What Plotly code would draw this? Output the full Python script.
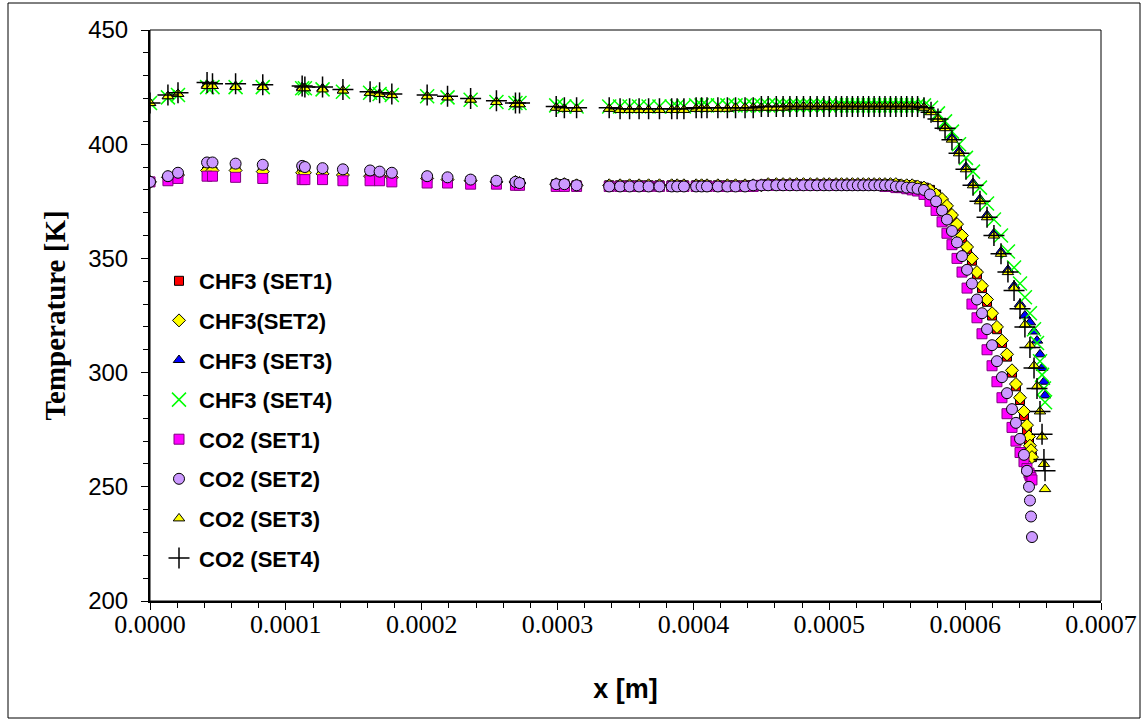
import plotly.graph_objects as go

# ---------------- data ----------------
x_plateau = [0.0, 0.0000132, 0.0000206, 0.000042, 0.000046, 0.000063, 0.000083, 0.000112, 0.000114,
             0.000127, 0.000142, 0.000162, 0.000169, 0.000178, 0.000204, 0.000219, 0.000236, 0.000255,
             0.000269, 0.000272, 0.000299, 0.000305, 0.000314, 0.000338, 0.000346, 0.000353, 0.000360,
             0.000367, 0.000375, 0.000384, 0.000388, 0.000393, 0.000402, 0.000406, 0.000410, 0.000418,
             0.000425, 0.000431, 0.000438, 0.000444, 0.000450, 0.000455, 0.000461, 0.000466, 0.000471,
             0.000476, 0.000481, 0.000486, 0.000491, 0.000496, 0.000500, 0.000505, 0.000509, 0.000513,
             0.000517, 0.000521, 0.000525, 0.000529, 0.000533, 0.000537, 0.000541, 0.000545, 0.000549,
             0.000553, 0.000557, 0.000561, 0.000565]

x_tail_lo = [0.0005697, 0.0005741, 0.0005786, 0.0005830, 0.0005866, 0.0005903, 0.0005940, 0.0005977,
             0.0006014, 0.0006050, 0.0006087, 0.0006124, 0.0006161, 0.0006198, 0.0006234, 0.0006271,
             0.0006308, 0.0006345, 0.0006374, 0.0006404, 0.0006433, 0.0006455, 0.0006470, 0.0006477,
             0.0006485, 0.0006492]

x_tail_hi = [0.0005697, 0.0005749, 0.0005800, 0.0005852, 0.0005903, 0.0005955, 0.0006006, 0.0006058,
             0.0006109, 0.0006161, 0.0006212, 0.0006264, 0.0006315, 0.0006360, 0.0006404, 0.0006440,
             0.0006477, 0.0006507, 0.0006529, 0.0006551, 0.0006566, 0.0006580, 0.0006588]

# SET1 / SET2 (lower curves)
chf3_set1 = [383.5, 385, 386, 388, 388, 388, 387.5, 387, 387, 386.5, 386, 386, 385.5, 385.5, 385, 384.5,
             384, 383.5, 383, 383, 382.5, 382.5, 382, 382, 382, 382, 382, 382, 382, 382, 382, 382, 382,
             382, 382, 382, 382, 382, 382, 382, 382, 382.5, 382.5, 382.5, 382.5, 382.5, 382.5, 382.5,
             382.5, 382.5, 382.5, 382.5, 382.5, 382.5, 382.5, 382.5, 382.5, 382.5, 382.5, 382.5, 382.5,
             382.5, 382.5, 382, 382, 382, 381.5,
             381, 380, 378, 375, 372, 368, 364, 359, 354, 349, 343, 337, 331, 325, 319, 313, 307, 300,
             294, 288, 281, 275, 270, 267, 265, 263]
chf3_set2 = [383.5, 385.5, 386.5, 388.5, 388.5, 388.5, 388, 387.5, 387.5, 387, 386.5, 386, 386, 385.5,
             385, 384.5, 384, 383.5, 383.5, 383, 382.5, 382.5, 382, 382, 382, 382, 382, 382, 382, 382, 382,
             382, 382, 382, 382, 382, 382, 382, 382, 382, 382, 382.5, 382.5, 382.5, 382.5, 382.5, 382.5,
             382.5, 382.5, 382.5, 382.5, 382.5, 382.5, 382.5, 382.5, 382.5, 382.5, 382.5, 382.5, 382.5,
             382.5, 382.5, 382.5, 382, 382, 382, 381.5,
             381, 380, 378, 376, 373, 369, 365, 360, 355, 350, 344, 338, 332, 326, 320, 314, 308, 301,
             295, 289, 283, 277, 272, 268, 266, 263]
co2_set1 = [383.5, 384, 385, 386, 386, 385.5, 385, 384.5, 384.5, 384.5, 384, 384, 384, 383.5, 383, 383,
            382.5, 382.5, 382, 382, 381.5, 381.5, 381.5, 381.5, 381.5, 381.5, 381.5, 381.5, 381.5, 381.5,
            381.5, 381.5, 381.5, 381.5, 381.5, 381.5, 381.5, 381.5, 381.5, 381.5, 382, 382, 382, 382, 382,
            382, 382, 382, 382, 382, 382, 382, 382, 382, 382, 382, 382, 382, 382, 382, 381.5, 381.5, 381,
            381, 380.5, 380, 379.5,
            378, 375, 371, 366, 361, 356, 350, 344, 337, 330, 324, 317, 310, 303, 296, 289, 282, 276,
            270, 265, 261, 258, 256, 255, 254, 253]
co2_set2 = [383.5, 386, 387.5, 392, 392, 391.5, 391, 390.5, 390, 389.5, 389, 388.5, 388, 387.5, 386,
            385.5, 384.5, 384, 383.5, 383, 382.5, 382.5, 382, 381.5, 381.5, 381.5, 381.5, 381.5, 381.5,
            381.5, 381.5, 381.5, 381.5, 381.5, 381.5, 381.5, 381.5, 381.5, 381.5, 382, 382, 382, 382, 382,
            382, 382, 382, 382, 382, 382, 382, 382, 382, 382, 382, 382, 382, 382, 382, 382, 382, 382,
            381.5, 381.5, 381, 381, 380.5,
            380, 378, 375, 371, 367, 362, 357, 351, 345, 339, 332, 326, 319, 312, 305, 298, 291, 284,
            278, 271, 264, 257, 250, 244, 237, 228]

# SET3 / SET4 (upper curves)
chf3_set3 = [418, 421, 422, 426, 425.5, 425.5, 425.5, 425, 424.5, 424.5, 423.5, 422.5, 422, 421.5, 421,
             420.5, 419.5, 418.5, 417.5, 417.5, 416, 415.5, 415.5, 415.5, 415, 415, 415, 415, 415, 415,
             415, 415, 415.5, 415.5, 415.5, 415.5, 415.5, 416, 416, 416, 416, 416, 416, 416, 416.5,
             416.5, 416.5, 416.5, 416.5, 416.5, 416.5, 416.5, 416.5, 416.5, 416.5, 416.5, 416.5, 416.5,
             416.5, 416.5, 416.5, 416.5, 416.5, 416.5, 416.5, 416.5, 416.5,
             416, 414.5, 411.5, 407.5, 403, 397, 390, 383, 376, 369, 361, 353, 345, 338, 330, 325, 322,
             318, 314, 308, 302, 296, 290]
chf3_set4 = [418, 420.5, 421.5, 425, 425, 425, 425, 424.5, 424.5, 424, 423, 422.5, 422, 421.5, 421,
             420.5, 419.5, 418.5, 418, 418, 417, 416.5, 416.5, 416.5, 416.5, 416.5, 416.5, 416.5, 416.5,
             416.5, 416.5, 416.5, 417, 417, 417, 417, 417, 417, 417, 417, 417, 417, 417, 417, 417, 417,
             417, 417, 417, 417, 417, 417, 417, 417, 417, 417, 417, 417, 417, 417, 417, 417, 417, 417,
             417, 417, 417,
             417, 416, 413.5, 410, 405.5, 400, 394, 388, 381, 374, 367, 360, 353, 346, 339, 333, 326,
             319, 313, 305, 299, 293, 287]
co2_set3 = [418, 421, 422, 425.5, 425.5, 425, 425, 424.5, 424.5, 424, 423.5, 422.5, 422, 421.5, 421,
            420.5, 419.5, 418.5, 417.5, 417.5, 416, 415.5, 415.5, 415.5, 415, 415, 415, 415, 415, 415,
            415, 415, 415.5, 415.5, 415.5, 415.5, 415.5, 416, 416, 416, 416, 416, 416, 416, 416.5, 416.5,
            416.5, 416.5, 416.5, 416.5, 416.5, 416.5, 416.5, 416.5, 416.5, 416.5, 416.5, 416.5, 416.5,
            416.5, 416.5, 416.5, 416.5, 416.5, 416.5, 416.5, 416.5,
            416, 414, 411, 407, 402, 396, 389, 382, 375, 368, 360, 352, 344, 337, 329, 321, 312, 303,
            294, 283, 272, 260, 249]
co2_set4 = [418, 421.5, 422.5, 427, 426.5, 426.5, 426, 425.5, 425, 425, 424, 423, 422.5, 422, 421.5,
            421, 420, 419, 418, 418, 416.5, 416, 416, 416, 415.5, 415.5, 415.5, 415.5, 415.5, 415.5,
            415.5, 415.5, 416, 416, 416, 416, 416, 416, 416, 416, 416.5, 416.5, 416.5, 416.5, 416.5,
            416.5, 416.5, 416.5, 416.5, 416.5, 416.5, 416.5, 416.5, 416.5, 416.5, 416.5, 416.5, 416.5,
            416.5, 416.5, 416.5, 416.5, 416.5, 416.5, 416.5, 416.5, 416.5,
            416, 414, 411, 407, 402, 396, 389, 382, 375, 368, 360, 352, 344, 336, 328, 320, 311, 302,
            293, 283, 273, 262, 257]

x_lo = x_plateau + x_tail_lo
x_hi = x_plateau + x_tail_hi

series = [
    ("CHF3 (SET1)", x_lo, chf3_set1, dict(symbol="square", size=9, color="#FF0000", line=dict(color="#000000", width=1))),
    ("CHF3(SET2)", x_lo, chf3_set2, dict(symbol="diamond", size=10, color="#FFFF00", line=dict(color="#000000", width=1))),
    ("CHF3 (SET3)", x_hi, chf3_set3, dict(symbol="triangle-up", size=10, color="#0000FF", line=dict(color="#000000", width=1))),
    ("CHF3 (SET4)", x_hi, chf3_set4, dict(symbol="x-thin-open", size=14, color="#00FF00", line=dict(color="#00FF00", width=1.5))),
    ("CO2 (SET1)", x_lo, co2_set1, dict(symbol="square", size=10, color="#FF00FF", line=dict(color="#800080", width=1))),
    ("CO2 (SET2)", x_lo, co2_set2, dict(symbol="circle", size=11, color="#CC99FF", line=dict(color="#000000", width=1))),
    ("CO2 (SET3)", x_hi, co2_set3, dict(symbol="triangle-up", size=10, color="#FFFF00", line=dict(color="#000000", width=1))),
    ("CO2 (SET4)", x_hi, co2_set4, dict(symbol="cross-thin-open", size=15, color="#000000", line=dict(color="#000000", width=1.5))),
]

fig = go.Figure()
for i, (name, xs, ys, mk) in enumerate(series):
    fig.add_trace(go.Scatter(x=xs, y=ys, mode="markers", name=name, marker=mk,
                             legendgroup="g%d" % i))

W, H = 1143, 721
L, R, T, B = 150, 42, 30, 120
pw, ph = W - L - R, H - T - B

def px_x(p):
    return (p - L) / pw

def px_y(p):
    return (H - B - p) / ph

fig.update_layout(
    width=W, height=H,
    margin=dict(l=L, r=R, t=T, b=B, autoexpand=False),
    paper_bgcolor="white", plot_bgcolor="white",
    showlegend=True,
    legend=dict(x=px_x(159), y=px_y(260), xanchor="left", yanchor="top",
                bgcolor="rgba(0,0,0,0)", tracegroupgap=8,
                font=dict(family="Liberation Sans, Arial", size=22, color="black", weight="bold"),
                itemsizing="trace"),
    xaxis=dict(range=[0, 0.0007], dtick=0.0001, tick0=0, tickformat=".4f", automargin=False,
               showline=True, linecolor="black", linewidth=2, showgrid=False, zeroline=False,
               ticks="outside", ticklen=7, tickcolor="black", tickwidth=1,
               minor=dict(dtick=0.00002, ticks="outside", ticklen=5, tickcolor="black", showgrid=False),
               tickfont=dict(family="Liberation Serif, Times New Roman", size=26, color="black"),
               ticklabelstandoff=-8,
               title=dict(text="x [m]", standoff=41,
                          font=dict(family="Liberation Sans, Arial", size=27, color="black", weight="bold"))),
    yaxis=dict(range=[200, 450], dtick=50, tick0=200, automargin=False,
               showline=True, linecolor="black", linewidth=2, showgrid=False, zeroline=False,
               ticks="outside", ticklen=7, tickcolor="black", tickwidth=1,
               minor=dict(dtick=10, ticks="outside", ticklen=5, tickcolor="black", showgrid=False),
               tickfont=dict(family="Liberation Sans, Arial", size=24, color="black"),
               ticklabelstandoff=8,
               title=dict(text="Temperature [K]", standoff=14,
                          font=dict(family="Liberation Serif, Times New Roman", size=29, color="black", weight="bold"))),
)

# plot-area border and outer chart border
fig.add_shape(type="rect", xref="paper", yref="paper", x0=0, y0=0, x1=1, y1=1,
              line=dict(color="black", width=1), layer="below")
fig.add_shape(type="rect", xref="paper", yref="paper",
              x0=px_x(8), x1=px_x(1140), y0=px_y(718), y1=px_y(3),
              line=dict(color="black", width=1))

fig.write_html("out.html")
